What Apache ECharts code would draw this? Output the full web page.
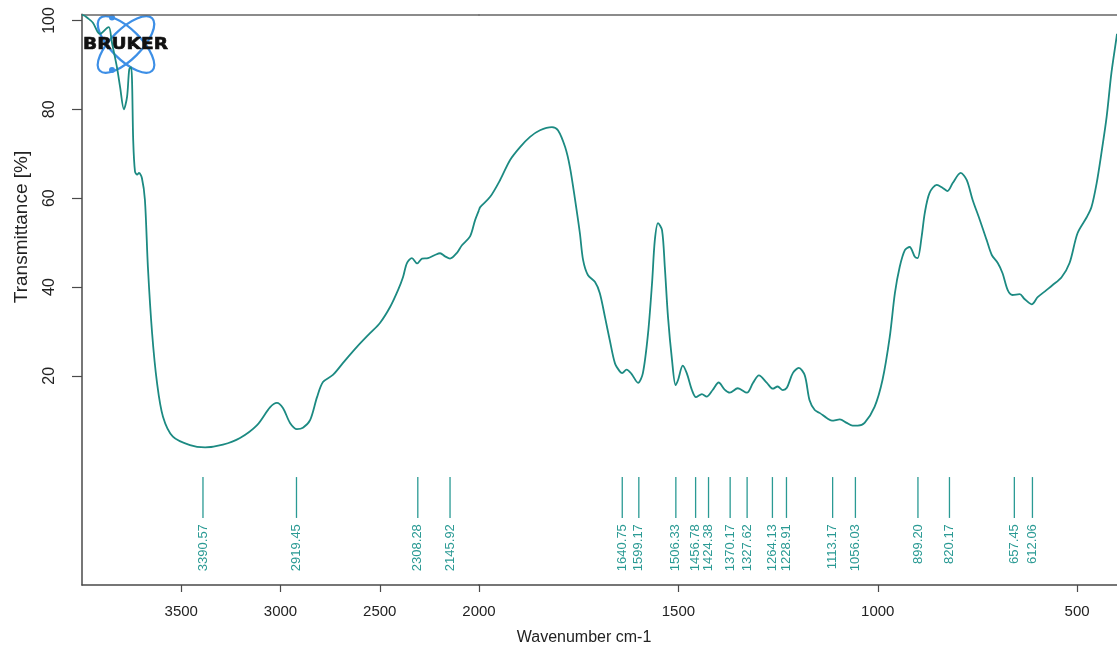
<!DOCTYPE html>
<html><head><meta charset="utf-8">
<script src="https://cdn.jsdelivr.net/npm/echarts@6/dist/echarts.min.js"></script>
<style>html,body{margin:0;padding:0;background:#fff}#c{width:1117px;height:653px}</style>
</head><body><div id="c"></div>
<script>
// Spectrum, 4000-2000 cm-1 region (compressed scale)
const wavenumbersHigh = [4000,3995,3970,3945,3921,3909,3874,3864,3849,3824,3808,3789,3773,3762,3753,3748,3742,3733,3722,3713,3698,3683,3668,3647,3622,3592,3542,3456,3380,3290,3204,3118,3053,3018,2987,2952,2917,2887,2851,2816,2786,2736,2685,2615,2549,2499,2448,2408,2383,2363,2338,2312,2287,2257,2222,2196,2171,2146,2111,2086,2045,2020,2000];
const transmittanceHigh = [101.2,101.2,100.5,99.5,97.4,97.0,98.3,98.5,95.0,89.5,85.0,80.0,82.8,89.0,89.5,86.6,73.0,66.0,65.3,65.7,64.5,59.6,44.5,29.7,18.4,10.8,6.3,4.4,3.9,4.5,6.0,8.9,12.9,13.9,12.7,9.4,8.0,8.3,10.0,15.2,18.6,20.2,22.9,26.5,29.6,31.9,35.5,39.3,42.2,45.4,46.5,45.3,46.4,46.5,47.2,47.6,46.9,46.4,47.7,49.4,51.4,55.0,57.3];
// Spectrum, 2000-400 cm-1 region
const wavenumbersLow = [2000,1997,1972,1947,1922,1897,1872,1847,1817,1802,1784,1772,1759,1747,1739,1727,1709,1697,1684,1672,1659,1647,1641,1630,1618,1601,1589,1576,1566,1559,1551,1541,1534,1526,1516,1507,1501,1489,1479,1466,1456,1441,1429,1414,1399,1384,1371,1351,1328,1313,1298,1278,1263,1251,1238,1228,1213,1198,1183,1171,1158,1145,1128,1115,1095,1078,1063,1050,1033,1008,988,970,957,945,932,920,907,900,890,882,870,852,837,825,812,792,777,762,744,727,714,699,687,674,662,644,632,614,599,577,562,539,519,499,476,464,451,439,426,414,401,400];
const transmittanceLow = [57.3,58.0,60.3,64.1,68.6,71.5,73.8,75.3,76.0,75.3,71.5,67.0,59.6,52.1,46.1,42.7,41.1,38.6,33.2,28.0,22.8,21.0,20.6,21.4,20.5,18.4,20.6,29.6,40.9,50.6,54.4,52.8,44.5,33.2,23.6,17.9,19.0,22.3,20.6,16.8,15.2,15.9,15.3,16.8,18.5,16.9,16.2,17.2,16.2,18.4,20.1,18.4,17.1,17.6,16.8,17.3,20.6,21.8,20.1,14.5,12.3,11.6,10.5,9.9,10.2,9.4,8.8,8.8,9.4,13.0,19.1,28.7,38.6,44.5,48.3,49.0,46.8,46.5,51.3,56.7,61.2,63.0,62.3,61.6,63.4,65.7,64.1,59.6,55.1,50.6,47.2,45.4,43.1,39.3,38.2,38.4,37.3,36.1,37.7,39.3,40.4,42.2,45.4,52.1,55.7,58.0,63.4,70.2,78.3,88.2,96.3,97.0];
// Peak picks
const peakPositions = [3390.57,2919.45,2308.28,2145.92,1640.75,1599.17,1506.33,1456.78,1424.38,1370.17,1327.62,1264.13,1228.91,1113.17,1056.03,899.20,820.17,657.45,612.06];
const peakLabels = ['3390.57','2919.45','2308.28','2145.92','1640.75','1599.17','1506.33','1456.78','1424.38','1370.17','1327.62','1264.13','1228.91','1113.17','1056.03','899.20','820.17','657.45','612.06'];
// Ticks
const xTicksHigh = [3500,3000,2500];
const xTicksLow = [2000,1500,1000,500];
const yTicks = [20,40,60,80,100];

const FONT = 'Liberation Sans, Arial, sans-serif';
const CURVE = '#1c8a82';
const PEAK = '#2a9a94';
const AXIS = '#4a4a4a';
const Y_MIN = -27.1, Y_MAX = 101.4;

const zip = (a, b) => a.map((v, i) => [v, b[i]]);
const highData = zip(wavenumbersHigh, transmittanceHigh);
const lowData = zip(wavenumbersLow, transmittanceLow);

const peaksHigh = [], peaksHighLab = [], peaksLow = [], peaksLowLab = [];
peakPositions.forEach((w, i) => {
  if (w > 2000) { peaksHigh.push([w, 0]); peaksHighLab.push(peakLabels[i]); }
  else { peaksLow.push([w, 0]); peaksLowLab.push(peakLabels[i]); }
});

function peakRenderer(labels) {
  return function (params, api) {
    const w = api.value(0);
    const a = api.coord([w, -2.8]);
    const b = api.coord([w, -12.0]);
    const t = api.coord([w, -13.4]);
    return { type: 'group', children: [
      { type: 'line', shape: { x1: a[0], y1: a[1], x2: b[0], y2: b[1] }, style: { stroke: PEAK, lineWidth: 1.3 } },
      { type: 'text', x: t[0], y: t[1], rotation: Math.PI / 2,
        style: { text: labels[params.dataIndex], font: '13px ' + FONT, fill: PEAK, align: 'right', verticalAlign: 'middle' } }
    ]};
  };
}

const plain = v => String(v);

const grids = [
  { left: 82, top: 14.3, width: 397, bottom: 68 },
  { left: 479, top: 14.3, right: 0, bottom: 68 }
];
function bottomX(grid, min, max, ticks) {
  return { type: 'value', gridIndex: grid, min: min, max: max, inverse: true, position: 'bottom',
    axisLine: { show: true, onZero: false, lineStyle: { color: AXIS, width: 1.5 } },
    axisTick: { show: true, length: 7, lineStyle: { color: AXIS, width: 1.2 }, customValues: ticks },
    axisLabel: { show: true, customValues: ticks, formatter: plain, margin: 19, color: '#222', fontSize: 15, fontFamily: FONT },
    splitLine: { show: false } };
}
function topX(grid, min, max) {
  return { type: 'value', gridIndex: grid, min: min, max: max, inverse: true, position: 'top',
    axisLine: { show: true, onZero: false, lineStyle: { color: '#666', width: 1.5 } },
    axisTick: { show: false }, axisLabel: { show: false }, splitLine: { show: false } };
}

const chart = echarts.init(document.getElementById('c'), null, { renderer: 'canvas' });
chart.setOption({
  animation: false,
  backgroundColor: '#fff',
  grid: grids,
  xAxis: [
    bottomX(0, 2000, 4000, xTicksHigh),
    bottomX(1, 400, 2000, xTicksLow),
    topX(0, 2000, 4000),
    topX(1, 400, 2000)
  ],
  yAxis: [
    { type: 'value', gridIndex: 0, min: Y_MIN, max: Y_MAX,
      axisLine: { show: true, onZero: false, lineStyle: { color: AXIS, width: 1.5 } },
      axisTick: { show: true, length: 10, lineStyle: { color: AXIS, width: 1.2 }, customValues: yTicks },
      axisLabel: { show: true, customValues: yTicks, formatter: plain, rotate: 90, margin: 24, color: '#222', fontSize: 16, fontFamily: FONT },
      splitLine: { show: false } },
    { type: 'value', gridIndex: 1, min: Y_MIN, max: Y_MAX, show: false, splitLine: { show: false } }
  ],
  series: [
    { type: 'line', xAxisIndex: 0, yAxisIndex: 0, data: highData, showSymbol: false, smooth: 0.3,
      lineStyle: { color: CURVE, width: 1.8 }, silent: true },
    { type: 'line', xAxisIndex: 1, yAxisIndex: 1, data: lowData, showSymbol: false, smooth: 0.3,
      lineStyle: { color: CURVE, width: 1.8 }, silent: true },
    { type: 'custom', xAxisIndex: 0, yAxisIndex: 0, data: peaksHigh, renderItem: peakRenderer(peaksHighLab), silent: true },
    { type: 'custom', xAxisIndex: 1, yAxisIndex: 1, data: peaksLow, renderItem: peakRenderer(peaksLowLab), silent: true }
  ],
  graphic: [
    { type: 'text', x: 22, y: 227, rotation: Math.PI / 2, z: 100,
      style: { text: 'Transmittance [%]', font: '19px ' + FONT, fill: '#222', align: 'center', verticalAlign: 'middle' } },
    { type: 'text', x: 584, y: 638, z: 100,
      style: { text: 'Wavenumber cm-1', font: '16px ' + FONT, fill: '#222', align: 'center', verticalAlign: 'middle' } },
    { type: 'group', x: 126, y: 44.5, z: 100, children: [
      { type: 'ellipse', rotation: -Math.PI / 4, shape: { cx: 0, cy: 0, rx: 37, ry: 15 },
        style: { fill: 'none', stroke: '#3d8fe6', lineWidth: 2.2 } },
      { type: 'ellipse', rotation: Math.PI / 4, shape: { cx: 0, cy: 0, rx: 37, ry: 15 },
        style: { fill: 'none', stroke: '#3d8fe6', lineWidth: 2.2 } },
      { type: 'circle', shape: { cx: -14, cy: -27, r: 3 }, style: { fill: '#3d8fe6' } },
      { type: 'circle', shape: { cx: -14, cy: 25.5, r: 3 }, style: { fill: '#3d8fe6' } },
      { type: 'text', x: -0.5, y: 0.5, scaleX: 1.16,
        style: { text: 'BRUKER', font: 'bold 16px DejaVu Sans', fill: '#111', stroke: '#111', lineWidth: 0.6, align: 'center', verticalAlign: 'middle' } }
    ]}
  ]
});
</script>
</body></html>
